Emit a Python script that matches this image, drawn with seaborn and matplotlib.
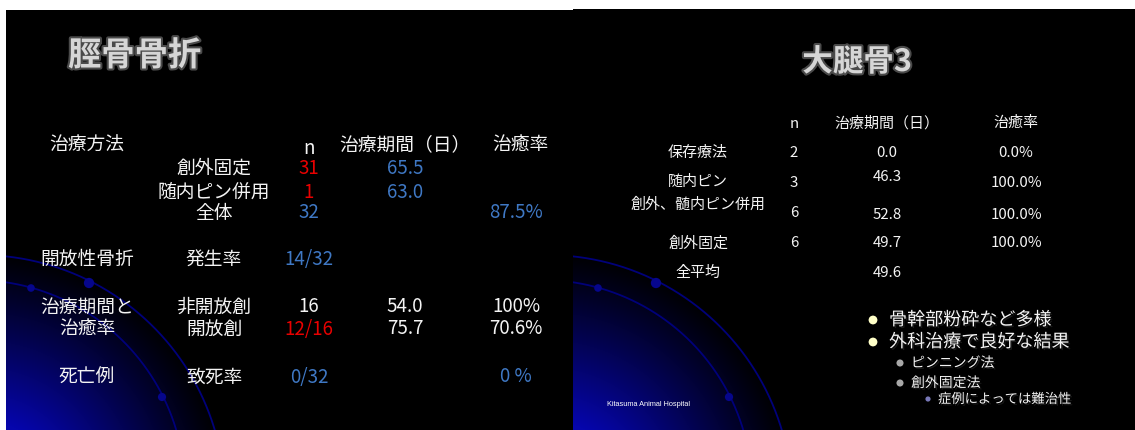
import numpy as np
import matplotlib
matplotlib.use("Agg")
import matplotlib.pyplot as plt
import matplotlib.patheffects as pe
from matplotlib.patches import Rectangle
import seaborn as sns
import pandas as pd

# ---------------- data: left slide (脛骨骨折) ----------------
tib_title = "脛骨骨折"
tib_header = ["n", "治療期間（日）", "治癒率"]
tib_section = "治療方法"
tib_methods = ["創外固定", "随内ピン併用", "全体"]
tib_n = ["31", "1", "32"]
tib_n_color = ["red", "red", "blue"]
tib_days = ["65.5", "63.0", ""]
tib_rate = ["", "", "87.5%"]
tib_open_label = "開放性骨折"
tib_open_sub = "発生率"
tib_open_val = "14/32"
tib_heal_label = ["治療期間と", "治癒率"]
tib_heal_sub = ["非開放創", "開放創"]
tib_heal_n = ["16", "12/16"]
tib_heal_n_color = ["white", "red"]
tib_heal_days = ["54.0", "75.7"]
tib_heal_rate = ["100%", "70.6%"]
tib_death_label = "死亡例"
tib_death_sub = "致死率"
tib_death_val = "0/32"
tib_death_rate = "0 %"

# ---------------- data: right slide (大腿骨3) ----------------
fem_title = "大腿骨3"
fem_header = ["n", "治療期間（日）", "治癒率"]
fem_methods = ["保存療法", "随内ピン", "創外、髄内ピン併用", "創外固定", "全平均"]
fem_n = ["2", "3", "6", "6", ""]
fem_days = ["0.0", "46.3", "52.8", "49.7", "49.6"]
fem_rate = ["0.0%", "100.0%", "100.0%", "100.0%", ""]
fem_bullets = ["骨幹部粉砕など多様", "外科治療で良好な結果", "ピンニング法", "創外固定法", "症例によっては難治性"]
fem_bullet_level = [0, 0, 1, 1, 2]
footer = "Kitasuma Animal Hospital"

# ---------------- style ----------------
sns.set_theme(style="dark")
plt.rcParams['font.family'] = ['Noto Sans CJK JP', 'DejaVu Sans']

COL = {"white": "#f4f4f4", "red": "#e80000", "blue": "#3f78c4"}
W, H = 1135, 430
fig = plt.figure(figsize=(W / 100, H / 100), dpi=100, facecolor="white")
ax = fig.add_axes([0, 0, 1, 1])
ax.set_xlim(0, W)
ax.set_ylim(H, 0)
ax.axis("off")
ax.set_facecolor("white")

slides = [(6, 10, 573, 430), (573, 9, 1135, 430)]


def slide_background(x0, y0, x1, y1):
    w, h = x1 - x0, y1 - y0
    yy, xx = np.mgrid[0:h, 0:w] + 0.5
    cx, cy = -26, 500 - y0
    d = np.hypot(xx - cx, yy - cy)
    t = np.clip((250 - d) / 170, 0, 1) ** 1.1
    img = np.zeros((h, w, 3))
    img[..., 0] = t * 6 / 255
    img[..., 1] = t * 6 / 255
    img[..., 2] = t * 172 / 255
    ax.imshow(img, extent=(x0, x1, y1, y0), origin="upper", zorder=0, interpolation="bilinear")
    clip = Rectangle((x0, y0), w, h, transform=ax.transData, facecolor="none", edgecolor="none")
    ax.add_patch(clip)
    # decorative arcs
    th = np.linspace(np.pi, 2 * np.pi, 600)
    for (ocx, ocy, r) in [(-26, 500, 245), (-31, 490, 210)]:
        line, = ax.plot(x0 + ocx + r * np.cos(th), ocy + r * np.sin(th),
                        color="#00007a", lw=1.3, zorder=1)
        line.set_clip_path(clip)
    dots = pd.DataFrame({"x": [x0 + 83, x0 + 25, x0 + 156], "y": [283, 288, 397],
                         "s": [55, 30, 35]})
    sns.scatterplot(data=dots, x="x", y="y", size="s", sizes=(30, 55), color="#06068c",
                    edgecolor="none", legend=False, ax=ax, zorder=2)


for s in slides:
    slide_background(*s)

title_fx = [pe.withStroke(linewidth=3, foreground="#4a4a4a")]


def txt(x, y, s, size, color="white", ha="center", **kw):
    if not s:
        return
    ax.text(x, y, s, fontsize=size, color=COL.get(color, color), ha=ha, va="center", zorder=5, **kw)


# ---------------- left slide ----------------
ax.text(68, 56, tib_title, fontsize=24, fontweight="bold", color="#d6d6d6",
        ha="left", va="center", path_effects=title_fx, zorder=5)
FS = 13.5
cx_lab, cx_sub, cx_n, cx_days, cx_rate = 87, 214, 309, 405, 516
txt(cx_lab, 145, tib_section, FS)
txt(cx_n, 149, tib_header[0], FS)
txt(cx_days, 145, tib_header[1], FS)
txt(520, 145, tib_header[2], FS)
for i, y in enumerate([168, 192, 213]):
    txt(cx_sub, y, tib_methods[i], FS)
    txt(cx_n, y, tib_n[i], FS, tib_n_color[i])
    txt(cx_days, y, tib_days[i], FS, "blue")
    txt(cx_rate, y, tib_rate[i], FS, "blue")
txt(cx_lab, 259, tib_open_label, FS)
txt(cx_sub, 259, tib_open_sub, FS)
txt(cx_n, 259, tib_open_val, FS, "blue")
for i, y in enumerate([307, 329]):
    txt(cx_lab, y, tib_heal_label[i], FS)
    txt(cx_sub, y, tib_heal_sub[i], FS)
    txt(cx_n, y, tib_heal_n[i], FS, tib_heal_n_color[i])
    txt(cx_days, y, tib_heal_days[i], FS)
    txt(cx_rate, y, tib_heal_rate[i], FS)
txt(cx_lab, 377, tib_death_label, FS)
txt(cx_sub, 377, tib_death_sub, FS)
txt(cx_n, 377, tib_death_val, FS, "blue")
txt(cx_rate, 377, tib_death_rate, FS, "blue")

# ---------------- right slide ----------------
ax.text(857, 62, fem_title, fontsize=22, fontweight="bold", color="#d6d6d6",
        ha="center", va="center", path_effects=title_fx, zorder=5)
fs = 10.8
rx_lab, rx_n, rx_days, rx_rate = 698, 794, 887, 1016
txt(rx_n, 124, fem_header[0], fs)
txt(rx_days, 123, fem_header[1], fs)
txt(rx_rate, 123, fem_header[2], fs)
y_lab = [153, 182, 205, 243, 273]
y_n = [153, 183, 213, 243, 273]
y_days = [153, 177, 215, 243, 273]
y_rate = [153, 183, 215, 243, 273]
for i in range(len(fem_methods)):
    txt(rx_lab, y_lab[i], fem_methods[i], fs)
    txt(rx_n, y_n[i], fem_n[i], fs)
    txt(rx_days, y_days[i], fem_days[i], fs)
    txt(rx_rate, y_rate[i], fem_rate[i], fs)

# bullets
b_y = [320, 342, 363, 383, 399]
dot_x = {0: 873, 1: 900, 2: 928}
text_x = {0: 889, 1: 911, 2: 938}
b_size = {0: 13, 1: 10, 2: 9.6}
b_col = {0: "#ffffc8", 1: "#a8a8a8", 2: "#7878b8"}
b_s = {0: 40, 1: 26, 2: 14}
bul = pd.DataFrame({"x": [dot_x[l] for l in fem_bullet_level], "y": b_y,
                    "lvl": [str(l) for l in fem_bullet_level]})
sns.scatterplot(data=bul, x="x", y="y", hue="lvl", size="lvl",
                palette={str(k): v for k, v in b_col.items()},
                sizes={str(k): v for k, v in b_s.items()},
                edgecolor="none", legend=False, ax=ax, zorder=5)
shadow_fx = [pe.SimplePatchShadow(offset=(1.2, -1.2), shadow_rgbFace="#606060", alpha=0.9), pe.Normal()]
for l, y, s in zip(fem_bullet_level, b_y, fem_bullets):
    ax.text(text_x[l], y, s, fontsize=b_size[l], color="#f4f4f4", ha="left", va="center",
            path_effects=[pe.withSimplePatchShadow(offset=(1.2, -1.2), shadow_rgbFace="#555555")],
            zorder=6)

ax.text(607, 405, footer, fontsize=5.3, color="white", ha="left", va="center",
        family=["Liberation Sans", "DejaVu Sans"], zorder=5)

fig.savefig("out.png", dpi=100, facecolor="white")
